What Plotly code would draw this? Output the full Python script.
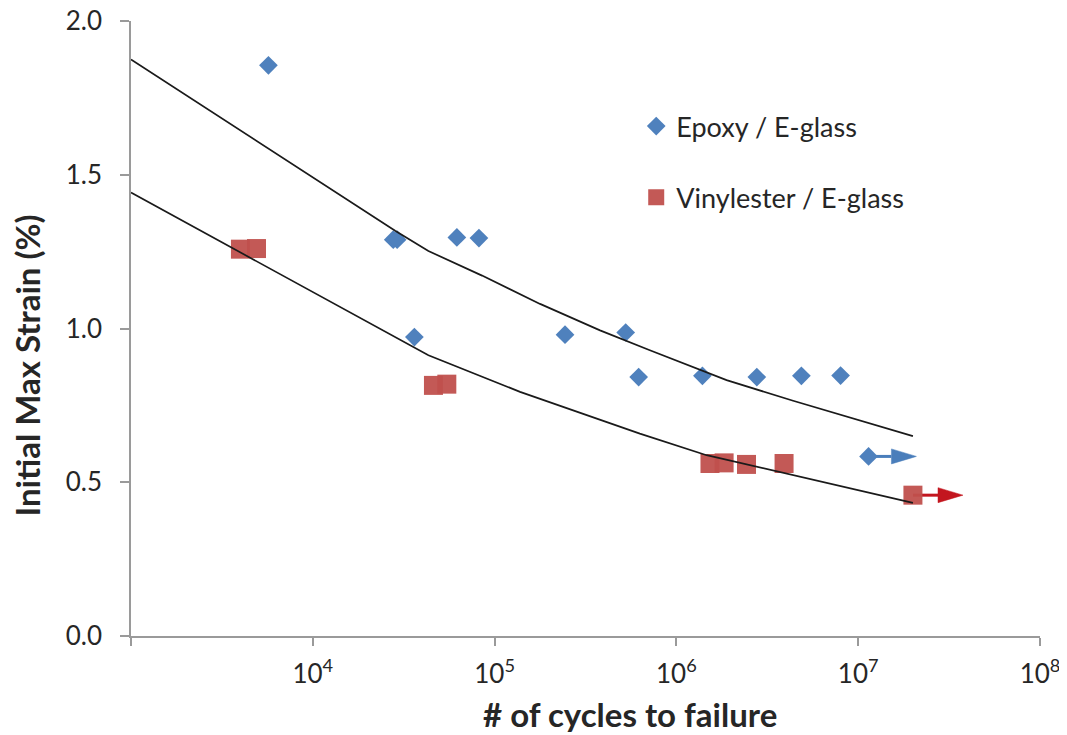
import math
import plotly.graph_objects as go

# ---- data ----
epoxy_cycles = [5.7e3, 2.77e4, 2.91e4, 3.62e4, 6.2e4, 8.2e4, 2.44e5, 5.26e5,
                6.2e5, 1.39e6, 2.77e6, 4.87e6, 8.0e6, 1.14e7]
epoxy_strain = [1.856, 1.289, 1.289, 0.972, 1.296, 1.294, 0.980, 0.987,
                0.842, 0.846, 0.842, 0.846, 0.847, 0.584]

vinyl_cycles = [4.0e3, 4.9e3, 4.61e4, 5.46e4, 1.53e6, 1.83e6, 2.43e6, 3.91e6, 2.0e7]
vinyl_strain = [1.258, 1.260, 0.815, 0.819, 0.561, 0.563, 0.558, 0.561, 0.458]

epoxy_fit_cycles = [1e3, 6.266e3, 2.8379e4, 4.3251e4, 8.531e4, 1.77828e5,
                    3.80189e5, 7.14496e5, 1.888e6, 4.385e6, 1.0186e7, 2.0e7]
epoxy_fit_strain = [1.875, 1.569, 1.318, 1.252, 1.172, 1.080,
                    0.994, 0.929, 0.832, 0.765, 0.701, 0.650]

vinyl_fit_cycles = [1e3, 4.819e3, 4.3251e4, 1.38038e5, 6.29506e5, 1.466e6,
                    4.207e6, 1.0186e7, 2.0e7]
vinyl_fit_strain = [1.442, 1.222, 0.913, 0.794, 0.658, 0.588,
                    0.525, 0.474, 0.433]

# run-out arrows (start cycles, end cycles, strain)
runout_epoxy = (1.14e7, 2.09e7, 0.584)
runout_vinyl = (2.0e7, 3.77e7, 0.458)

x_tickvals = [1e3, 1e4, 1e5, 1e6, 1e7, 1e8]
x_ticktext = ["", "10<sup>4</sup>", "10<sup>5</sup>", "10<sup>6</sup>",
              "10<sup>7</sup>", "10<sup>8</sup>"]
y_tickvals = [0.0, 0.5, 1.0, 1.5, 2.0]

BLUE = "#4F81BD"
RED = "#C0504D"
ARROW_BLUE = "#4A7EBB"
ARROW_RED = "#C3161F"
FONT = "Lato"
TXT = "#262626"

fig = go.Figure()

# arrows first (markers drawn over them): shaft + triangular head
DEC_PX = 182.0
Y_PX = 307.5
head_len = 25.0 / DEC_PX
head_half = 7.5 / Y_PX
for (x0, x1, yv), col in [(runout_epoxy, ARROW_BLUE), (runout_vinyl, ARROW_RED)]:
    lt = math.log10(x1)
    base = 10 ** (lt - head_len)
    fig.add_trace(go.Scatter(
        x=[x0, base], y=[yv, yv], mode="lines", showlegend=False, hoverinfo="skip",
        line=dict(color=col, width=3),
    ))
    fig.add_trace(go.Scatter(
        x=[base, x1, base, base], y=[yv + head_half, yv, yv - head_half, yv + head_half],
        mode="lines", fill="toself", fillcolor=col, showlegend=False, hoverinfo="skip",
        line=dict(color=col, width=0.5),
    ))

fig.add_trace(go.Scatter(
    x=epoxy_cycles, y=epoxy_strain, mode="markers", name="Epoxy / E-glass",
    legendgroup="a",
    marker=dict(symbol="diamond", size=14.4, color=BLUE, line=dict(width=0)),
))
fig.add_trace(go.Scatter(
    x=vinyl_cycles, y=vinyl_strain, mode="markers", name="Vinylester / E-glass",
    legendgroup="b",
    marker=dict(symbol="square", size=19, color=RED, opacity=0.95, line=dict(width=0)),
))

for xs, ys in [(epoxy_fit_cycles, epoxy_fit_strain), (vinyl_fit_cycles, vinyl_fit_strain)]:
    fig.add_trace(go.Scatter(
        x=xs, y=ys, mode="lines", showlegend=False, hoverinfo="skip",
        line=dict(color="#1a1a1a", width=1.7),
    ))

# target plot-area box in window pixels; the page body adds an 8px offset
L, R, T, B = 130.5, 1040.0, 21.0, 636.0
W, H = 1067, 735
OFF = 8

fig.update_layout(
    width=W, height=H,
    margin=dict(l=L - OFF, r=W - R + OFF, t=T - OFF, b=H - B + OFF, pad=0, autoexpand=False),
    plot_bgcolor="white", paper_bgcolor="white",
    font=dict(family=FONT, color=TXT, size=26),
    showlegend=True,
    legend=dict(
        x=(636 - L) / (R - L), xanchor="left",
        y=(B - 102) / (B - T), yanchor="top",
        bgcolor="rgba(0,0,0,0)", font=dict(family=FONT, size=27, color=TXT),
        tracegroupgap=33, itemsizing="trace",
    ),
    xaxis=dict(
        type="log", range=[3, 8], tickvals=x_tickvals, ticktext=x_ticktext,
        showgrid=False, zeroline=False, showline=True, linecolor="#9A9A9A", linewidth=1.5,
        ticks="outside", ticklen=8, tickwidth=1.5, tickcolor="#9A9A9A",
        tickfont=dict(family=FONT, size=26, color=TXT), ticklabelstandoff=6,
        ticklabeloverflow="allow", automargin=False,
    ),
    yaxis=dict(
        range=[0, 2], tickvals=y_tickvals, tickformat=".1f",
        showgrid=False, zeroline=False, showline=True, linecolor="#9A9A9A", linewidth=1.5,
        ticks="outside", ticklen=9, tickwidth=1.5, tickcolor="#9A9A9A",
        tickfont=dict(family=FONT, size=26, color=TXT), ticklabelstandoff=13,
        ticklabeloverflow="allow", automargin=False,
    ),
    annotations=[
        dict(text="<b># of cycles to failure</b>", xref="paper", yref="paper",
             x=(629.5 - L) / (R - L), y=(B - 714) / (B - T), xanchor="center", yanchor="middle",
             showarrow=False, font=dict(family=FONT, size=33, color=TXT)),
        dict(text="<b>Initial Max Strain (%)</b>", xref="paper", yref="paper",
             x=(26 - L) / (R - L), y=(B - 366) / (B - T), xanchor="center", yanchor="middle",
             textangle=-90, showarrow=False, font=dict(family=FONT, size=33, color=TXT)),
    ],
)

fig.write_html("out.html")
